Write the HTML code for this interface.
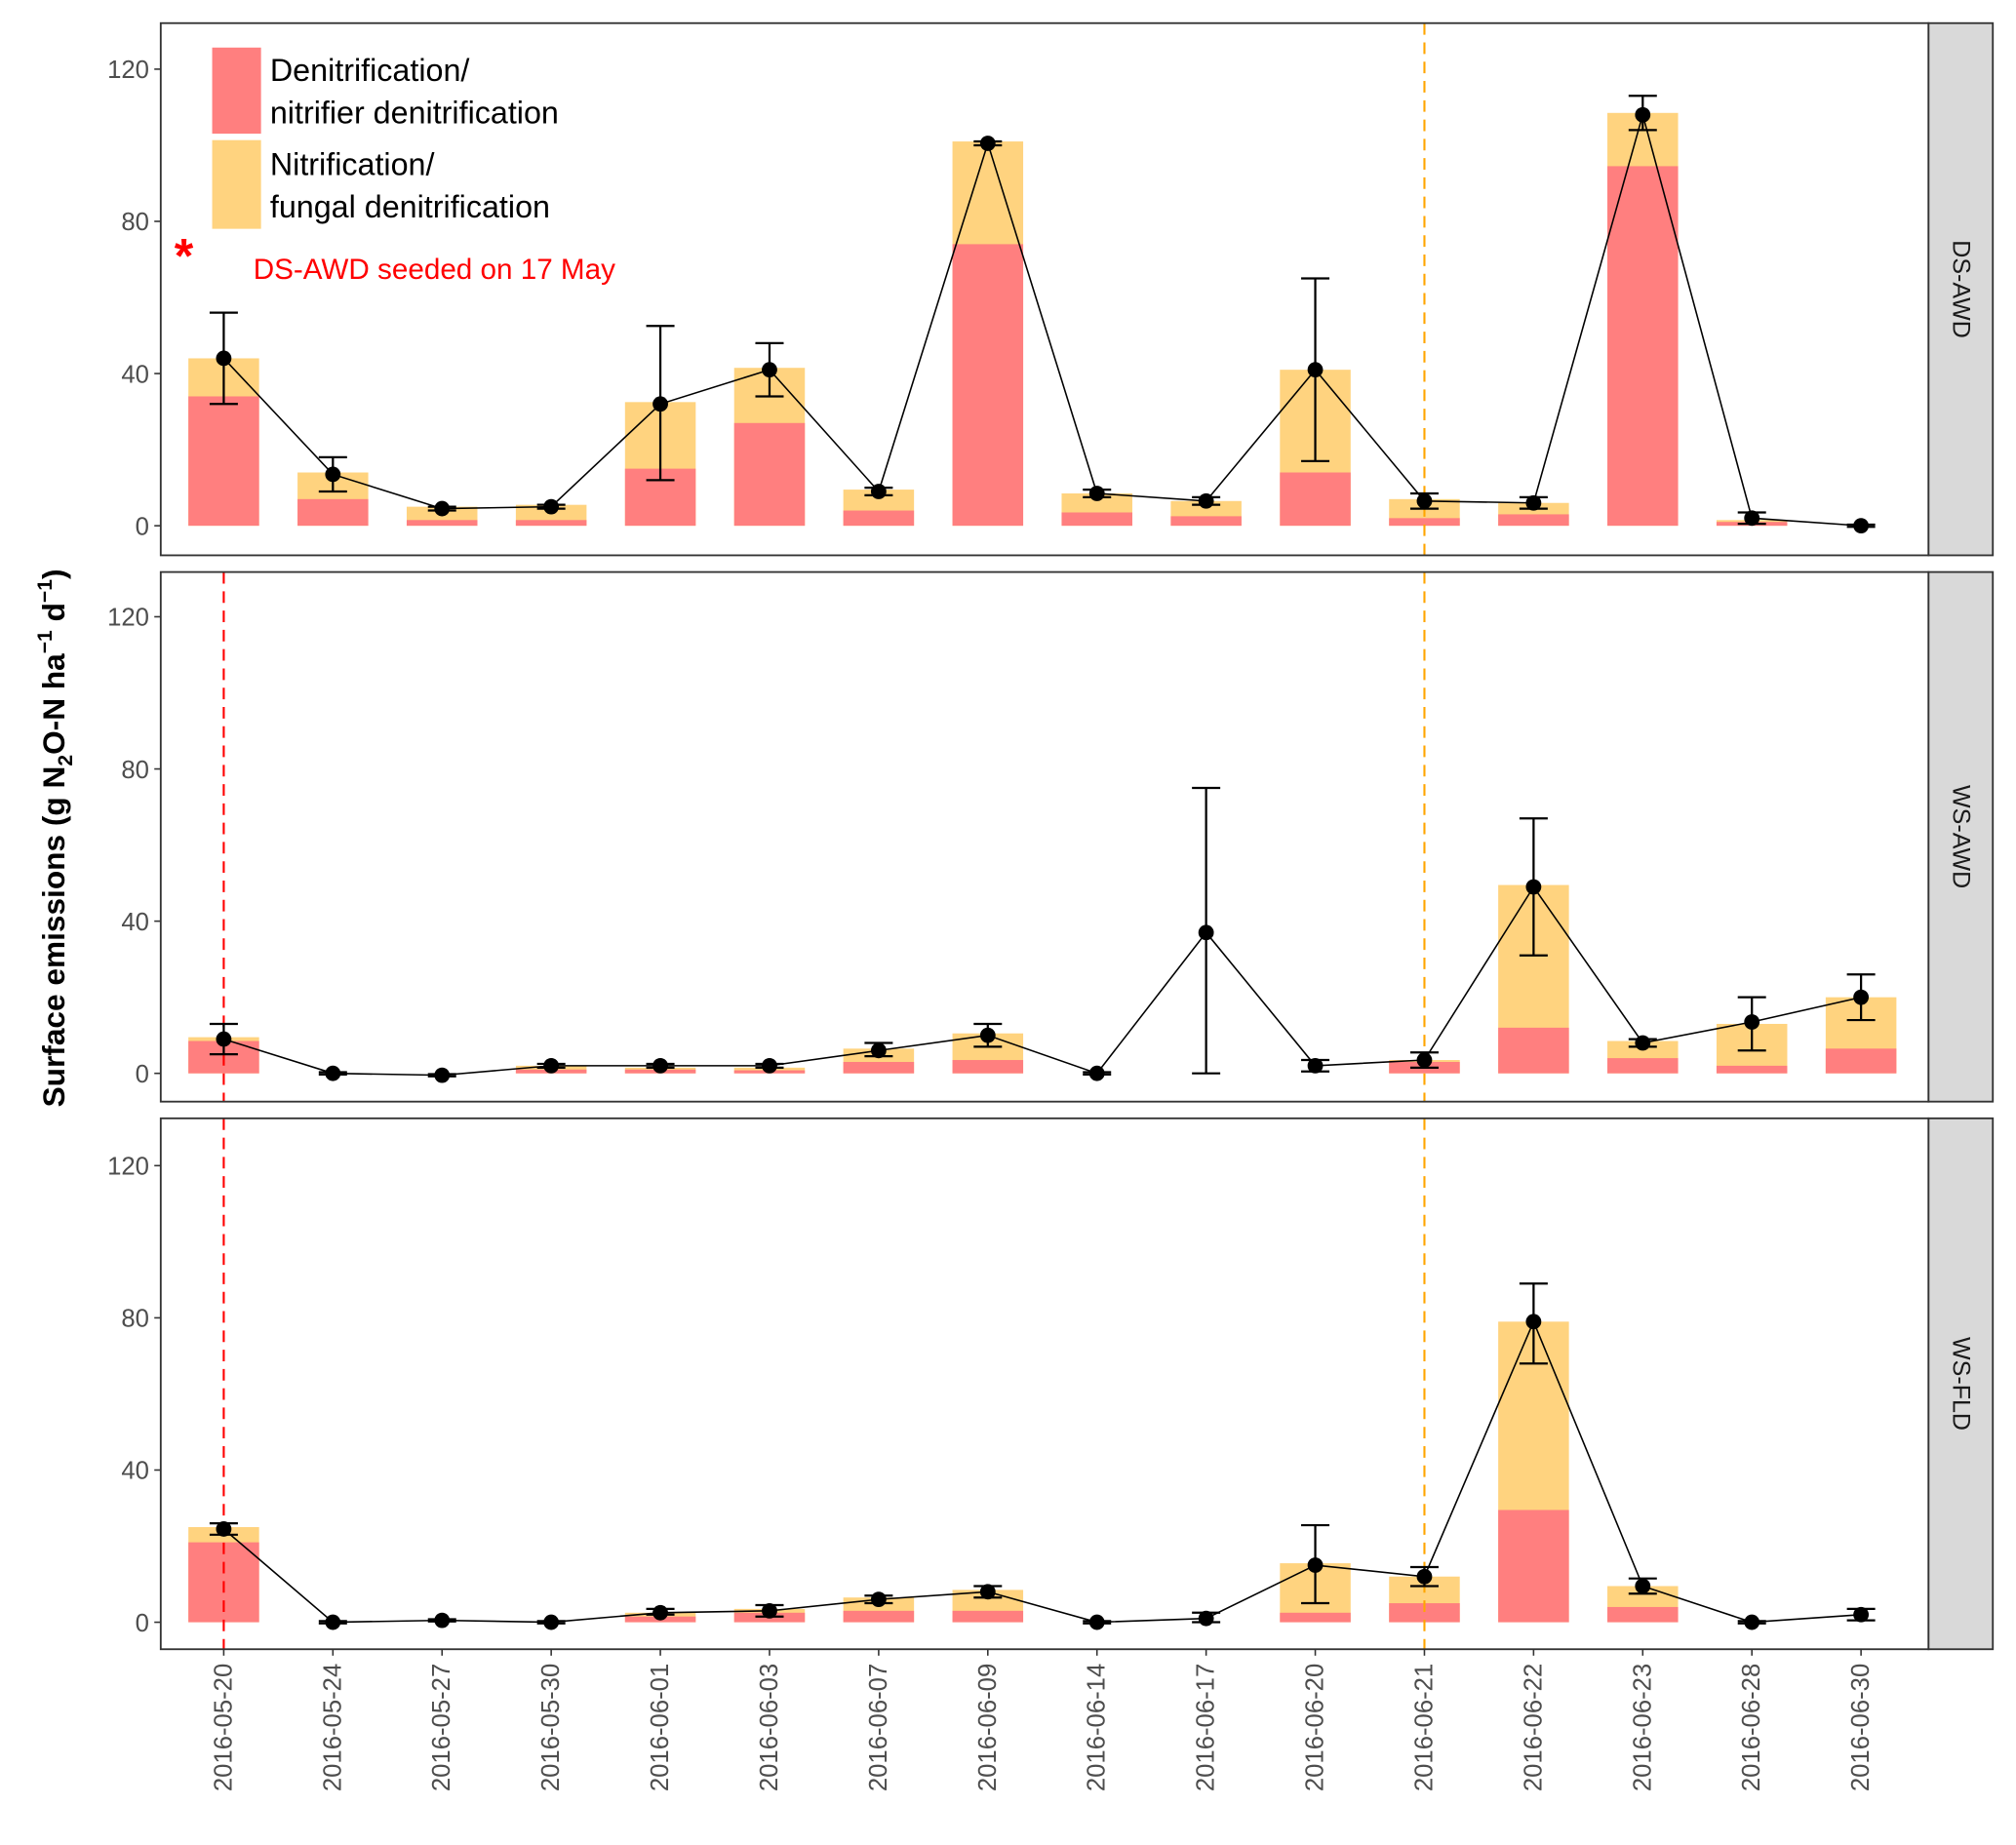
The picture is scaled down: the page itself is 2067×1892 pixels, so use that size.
<!DOCTYPE html>
<html><head><meta charset="utf-8"><style>
html,body{margin:0;padding:0;background:#fff}
svg{display:block}
text{font-family:"Liberation Sans",Arial,sans-serif}
</style></head><body>
<svg id="chart" width="2067" height="1892" viewBox="0 0 1568 1435.3" xmlns="http://www.w3.org/2000/svg"></svg>
<script>
const categories=["2016-05-20","2016-05-24","2016-05-27","2016-05-30","2016-06-01","2016-06-03","2016-06-07","2016-06-09","2016-06-14","2016-06-17","2016-06-20","2016-06-21","2016-06-22","2016-06-23","2016-06-28","2016-06-30"];
const panelNames=["DS-AWD","WS-AWD","WS-FLD"];
const yTicks=[0,40,80,120];
// DS-AWD
const dsTotal=[44,14,5,5.5,32.5,41.5,9.5,101,8.5,6.5,41,7,6,108.5,1.5,0];
const dsRed=[34,7,1.5,1.5,15,27,4,74,3.5,2.5,14,2,3,94.5,1,0];
const dsMean=[44,13.5,4.5,5,32,41,9,100.5,8.5,6.5,41,6.5,6,108,2,0];
const dsLow=[32,9,4,4.5,12,34,8,100,7.5,5.5,17,4.5,4.5,104,0.5,-0.3];
const dsHigh=[56,18,5,5.5,52.5,48,10,101,9.5,7.5,65,8.5,7.5,113,3.5,0.3];
// WS-AWD
const wsaTotal=[9.5,0,0,2,1.5,1.5,6.5,10.5,0,0,0,3.5,49.5,8.5,13,20];
const wsaRed=[8.5,0,0,1,1,0.8,3,3.5,0,0,0,3,12,4,2,6.5];
const wsaMean=[9,0,-0.5,2,2,2,6,10,0,37,2,3.5,49,8,13.5,20];
const wsaLow=[5,-0.3,-0.8,1.5,1.5,1.5,4.5,7,-0.3,0,0.5,1.5,31,7,6,14];
const wsaHigh=[13,0.3,-0.2,2.5,2.5,2.5,8,13,0.3,75,3.5,5.5,67,9,20,26];
// WS-FLD
const wsfTotal=[25,0,0,0,2.5,3.5,6.5,8.5,0,0,15.5,12,79,9.5,0,0];
const wsfRed=[21,0,0,0,1.5,2.5,3,3,0,0,2.5,5,29.5,4,0,0];
const wsfMean=[24.5,0,0.5,0,2.5,3,6,8,0,1,15,12,79,9.5,0,2];
const wsfLow=[23,-0.3,0.2,-0.3,2,1.5,5,6.5,-0.3,0,5,9.5,68,7.5,-0.3,0.5];
const wsfHigh=[26,0.3,0.8,0.3,3.5,4.5,7,9.5,0.3,2.5,25.5,14.5,89,11.5,0.3,3.5];

const panels=[
 {name:panelNames[0],total:dsTotal,red:dsRed,mean:dsMean,low:dsLow,high:dsHigh},
 {name:panelNames[1],total:wsaTotal,red:wsaRed,mean:wsaMean,low:wsaLow,high:wsaHigh},
 {name:panelNames[2],total:wsfTotal,red:wsfRed,mean:wsfMean,low:wsfLow,high:wsfHigh}];
const NS="http://www.w3.org/2000/svg";
const svg=document.getElementById('chart');
function mk(tag,attrs,parent){const e=document.createElementNS(NS,tag);for(const k in attrs)e.setAttribute(k,attrs[k]);(parent||svg).appendChild(e);return e;}
const L=125,R=1500,SR=1550;
const tops=[18,445,870],bots=[432,857,1283],zeros=[409,835,1262];
const ppu=2.96;
function xs(i){return 174+i*84.9;}
function ys(p,v){return zeros[p]-v*ppu;}
const bw=55;
panels.forEach((pd,p)=>{
 const g=mk('g',{});
 
 
 mk('rect',{x:L,y:tops[p],width:R-L,height:bots[p]-tops[p],fill:'#fff'},g);
 pd.total.forEach((t,i)=>{
  if(t>0){const r=mk('rect',{x:xs(i)-bw/2,y:ys(p,t),width:bw,height:ys(p,0)-ys(p,t),fill:'#FFD37F'},g);
   
   }
  const rv=pd.red[i];
  if(rv>0){const r=mk('rect',{x:xs(i)-bw/2,y:ys(p,rv),width:bw,height:ys(p,0)-ys(p,rv),fill:'#FF7F7F'},g);
   
   }
 });
 if(p>0){const l=mk('line',{x1:xs(0),x2:xs(0),y1:tops[p],y2:bots[p],stroke:'#FF0000','stroke-width':1.6,'stroke-dasharray':'9,6'},g);
  }
 const o=mk('line',{x1:xs(11),x2:xs(11),y1:tops[p],y2:bots[p],stroke:'#FFA500','stroke-width':1.6,'stroke-dasharray':'9,6'},g);
 
 const pts=pd.mean.map((m,i)=>xs(i)+','+ys(p,m)).join(' ');
 const pl=mk('polyline',{points:pts,fill:'none',stroke:'#000','stroke-width':1.2},g);
 
 pd.mean.forEach((m,i)=>{
  const x=xs(i);
  const eb=mk('path',{d:`M${x-11},${ys(p,pd.high[i])}H${x+11}M${x},${ys(p,pd.high[i])}V${ys(p,pd.low[i])}M${x-11},${ys(p,pd.low[i])}H${x+11}`,stroke:'#000','stroke-width':1.7,fill:'none'},g);
  
  const c=mk('circle',{cx:x,cy:ys(p,m),r:6,fill:'#000'},g);
  
 });
 mk('rect',{x:L,y:tops[p],width:R-L,height:bots[p]-tops[p],fill:'none',stroke:'#333','stroke-width':1.4},g);
 const st=mk('rect',{x:R,y:tops[p],width:SR-R,height:bots[p]-tops[p],fill:'#D9D9D9',stroke:'#333','stroke-width':1.4},g);
 
 const sy=(tops[p]+bots[p])/2, sx=(R+SR)/2;
 const tx=mk('text',{x:sx,y:sy,transform:`rotate(90 ${sx} ${sy})`,'text-anchor':'middle','dominant-baseline':'central','font-size':19,fill:'#1a1a1a'},g);
 tx.textContent=pd.name;
 
 yTicks.forEach(v=>{
  const y=ys(p,v);
  mk('line',{x1:L-5,x2:L,y1:y,y2:y,stroke:'#333','stroke-width':1.2},g);
  const t=mk('text',{x:L-9,y:y+7,'text-anchor':'end','font-size':19.5,fill:'#4d4d4d'},g);
  t.textContent=v;
  
 });
});
categories.forEach((c,i)=>{
 const x=xs(i);
 mk('line',{x1:x,x2:x,y1:1283,y2:1288,stroke:'#333','stroke-width':1.2});
 const t=mk('text',{x:x,y:1294,transform:`rotate(-90 ${x} 1294)`,'text-anchor':'end','dominant-baseline':'central','font-size':19.5,fill:'#4d4d4d'});
 t.textContent=c;
 
 
});
</script>
<svg style="position:absolute;left:0;top:0" width="2067" height="1892" viewBox="0 0 1568 1435.3" xmlns="http://www.w3.org/2000/svg">
 <text transform="translate(50 652) rotate(-90)" text-anchor="middle" font-size="24" font-weight="bold" fill="#000">Surface emissions (g N<tspan font-size="16" dy="6">2</tspan><tspan dy="-6">O-N  ha</tspan><tspan font-size="16" dy="-10">−1</tspan><tspan dy="10">  d</tspan><tspan font-size="16" dy="-10">−1</tspan><tspan dy="10">)</tspan></text>
 <g>
  <rect x="165" y="37" width="38" height="67" fill="#FF7F7F"/>
  <rect x="165" y="109" width="38" height="69" fill="#FFD37F"/>
  <text x="210" y="63" font-size="24.5" fill="#000">Denitrification/</text>
  <text x="210" y="96" font-size="24.5" fill="#000">nitrifier denitrification</text>
  <text x="210" y="136" font-size="24.5" fill="#000">Nitrification/</text>
  <text x="210" y="169" font-size="24.5" fill="#000">fungal denitrification</text>
 </g>
 <text x="143" y="212" text-anchor="middle" font-size="38" font-weight="bold" fill="#FF0000">*</text>
 <text x="197" y="217" font-size="22.5" fill="#FF0000">DS-AWD seeded on 17 May</text>
</svg>
</body></html>
